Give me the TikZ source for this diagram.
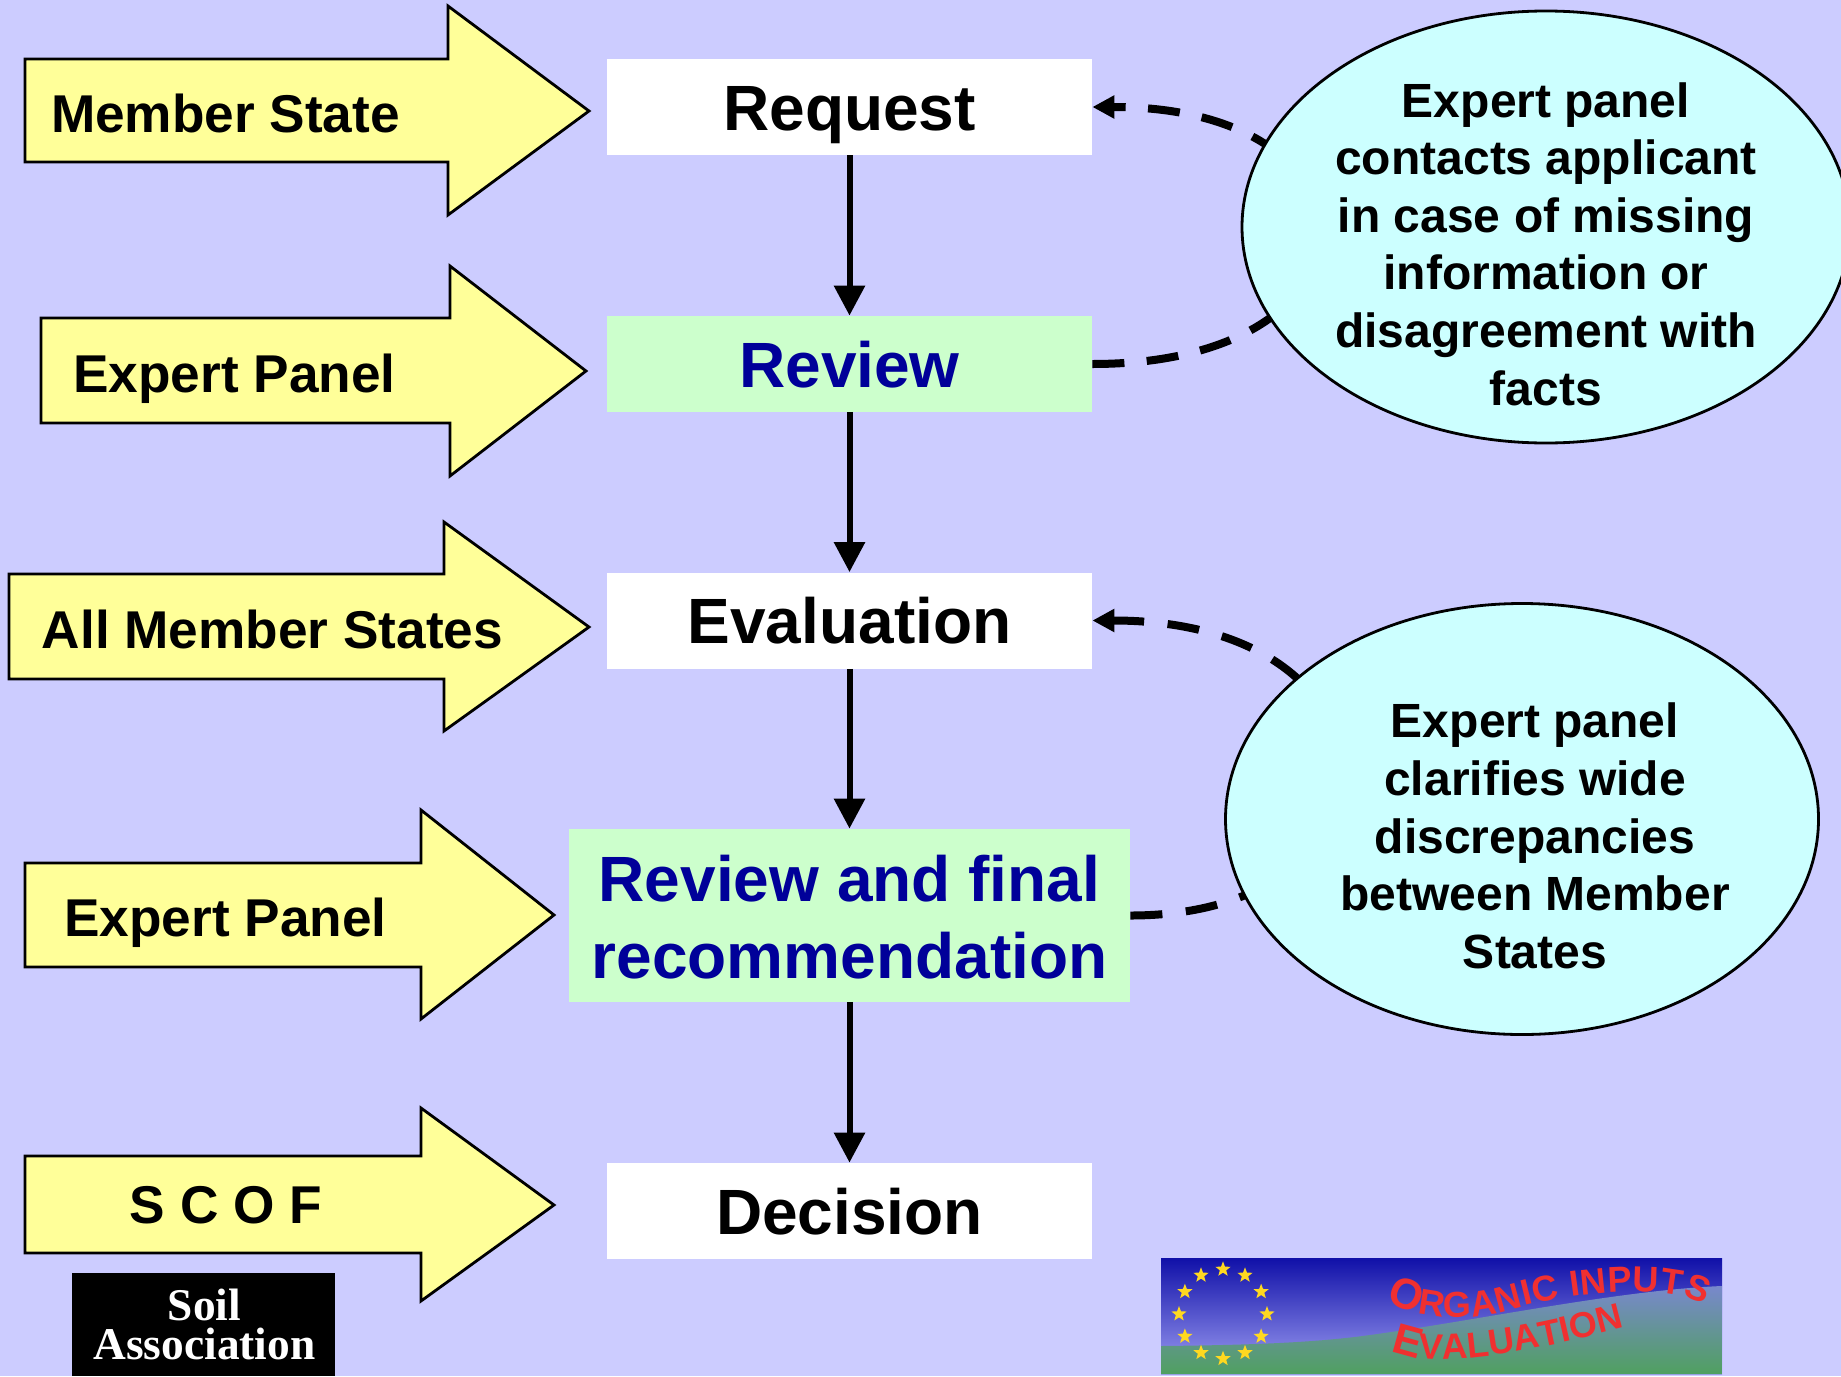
\documentclass[tikz,border=0pt]{standalone}
\usepackage{fontspec}
\setmainfont{Liberation Sans}
\newfontfamily\soilfont{Liberation Serif}
\usetikzlibrary{arrows.meta,shapes.geometric,decorations.text}
\definecolor{bgc}{HTML}{CCCCFF}
\definecolor{yel}{HTML}{FFFF99}
\definecolor{grn}{HTML}{CCFFCC}
\definecolor{cya}{HTML}{CCFFFF}
\definecolor{navyt}{HTML}{000099}
\definecolor{logored}{HTML}{F03030}
\definecolor{skytop}{HTML}{1010A8}
\definecolor{skymid}{HTML}{5858C8}
\definecolor{skylow}{HTML}{A0A0F4}
\definecolor{hilltop}{HTML}{7888CC}
\definecolor{hillmid}{HTML}{8CB8A8}
\definecolor{hilllow}{HTML}{50A060}
\definecolor{stargold}{HTML}{FFD820}
\tikzset{
  stagebox/.style={inner sep=0pt,minimum width=242.5pt,minimum height=48pt,
    font=\bfseries\fontsize{32}{38.7}\selectfont,align=center,text height=23pt,text depth=0pt},
  white box/.style={stagebox,fill=white,text=black},
  green box/.style={stagebox,fill=grn,text=navyt},
  bigarrow/.style={draw=black,fill=yel,line width=1.4pt,line join=miter},
  arrowlabel/.style={anchor=base,inner sep=0pt,font=\bfseries\fontsize{26.6}{30}\selectfont},
  bubble/.style={draw=black,fill=cya,line width=1.4pt,ellipse,inner sep=0pt},
  bubbletext/.style={align=center,inner sep=0pt,font=\bfseries\fontsize{24}{28.8}\selectfont},
  flow/.style={-{Triangle[length=15pt,width=15pt]},line width=3pt},
  feedback/.style={-{Triangle[length=11pt,width=11pt]},line width=4pt},
  soiltext/.style={anchor=base,inner sep=0pt,text=white,font=\soilfont\bfseries\fontsize{22.7}{24}\selectfont},
}
\newcommand{\oiA}{\fontsize{21.5}{22}\bfseries\selectfont}
\newcommand{\oiB}{\fontsize{18}{18}\bfseries\selectfont}
\begin{document}
\begin{tikzpicture}[x=0.5pt,y=-0.5pt]
\fill[bgc] (0,0) rectangle (1841,1376);
\useasboundingbox (0,0) rectangle (1841,1376);
\clip (0,0) rectangle (1841,1376);

% stage boxes
\node[white box] (request) at (849.5,107) {Request};
\node[green box] (review) at (849.5,364) {Review};
\node[white box] (evaluation) at (849.5,620.5) {Evaluation};
\node[stagebox,fill=grn,text=navyt,minimum width=280.5pt,minimum height=86.5pt,text height=,text depth=] (final) at (849.5,915.5) {\rule{0pt}{24.8pt}Review and final\\recommendation};
\node[white box] (decision) at (849.5,1211) {Decision};

% flow arrows
\draw[flow] (request) -- (review);
\draw[flow] (review) -- (evaluation);
\draw[flow] (evaluation) -- (final);
\draw[flow] (final) -- (decision);

% feedback curves
\draw[feedback,dash pattern=on 16pt off 11.2pt] (review.east) .. controls +(300,0) and +(300,0) .. (request.east);
\draw[feedback,dash pattern=on 16pt off 11.8pt] (final.east) .. controls +(284,0) and +(322,0) .. (evaluation.east);

% bubbles
\node[bubble,minimum width=304pt,minimum height=216pt] (bubbleA) at (1546,227) {};
\node[bubbletext] (bubbleAtext) at (1546,244) {Expert panel\\contacts applicant\\in case of missing\\information or\\disagreement with\\facts};
\node[bubble,minimum width=296.5pt,minimum height=215.5pt] (bubbleB) at (1522,819) {};
\node[bubbletext] (bubbleBtext) at (1535,836) {Expert panel\\clarifies wide\\discrepancies\\between Member\\States};

% side arrows
\draw[bigarrow] (25,59) -- (448,59) -- (448,6) -- (589,111) -- (448,215) -- (448,162) -- (25,162) -- cycle;
\draw[bigarrow] (41,318) -- (450,318) -- (450,266) -- (586,371) -- (450,476) -- (450,423) -- (41,423) -- cycle;
\draw[bigarrow] (9,574) -- (444,574) -- (444,522) -- (589,627) -- (444,731) -- (444,679) -- (9,679) -- cycle;
\draw[bigarrow] (25,863) -- (421,863) -- (421,810) -- (554,915) -- (421,1019) -- (421,967) -- (25,967) -- cycle;
\draw[bigarrow] (25,1156) -- (421,1156) -- (421,1108) -- (554,1205) -- (421,1301) -- (421,1253) -- (25,1253) -- cycle;
\node[arrowlabel] (labelA) at (225.5,132) {Member State};
\node[arrowlabel] (labelB) at (234.5,392.5) {Expert Panel};
\node[arrowlabel] (labelC) at (272.5,648.5) {All Member States};
\node[arrowlabel] (labelD) at (225.5,936.5) {Expert Panel};
\node[arrowlabel] (labelE) at (226,1223) {S C O F};

% Soil Association logo
\fill[black] (72,1273) rectangle (335,1376);
\node[soiltext] (soilA) at (204.5,1320) {Soil};
\node[soiltext] (soilB) at (204.5,1359) {Association};

% Organic Inputs Evaluation logo
\begin{scope}
\clip (1161,1258) rectangle (1722,1374);
\shade[top color=skytop,middle color=skymid,bottom color=skylow] (1161,1258) rectangle (1722,1374);
\shade[top color=hilltop,middle color=hillmid,bottom color=hilllow]
  (1161,1346) .. controls (1260,1345) and (1320,1342) .. (1370,1335) .. controls (1480,1320) and (1620,1290) .. (1722,1286) -- (1722,1374) -- (1161,1374) -- cycle;
\foreach \a in {0,30,...,330}
  \node[star,star points=5,star point ratio=2.4,fill=stargold,inner sep=0pt,minimum size=8pt] at ({1223+44*cos(\a)},{1314+44.7*sin(\a)}) {};
\path[decorate,decoration={text along path,text align={fit to path},text={|\oiA\color{logored}|O|\oiB\color{logored}|RGANIC INPUTS}}]
  (1386,1300) .. controls (1420,1322) and (1470,1322) .. (1517,1308) .. controls (1560,1295) and (1668,1280) .. (1704,1305);
\path[decorate,decoration={text along path,text align={fit to path},text={|\oiA\color{logored}|E|\oiB\color{logored}|VALUATION}}]
  (1391,1350) .. controls (1425,1368) and (1500,1360) .. (1622,1328);
\end{scope}
\end{tikzpicture}
\end{document}
